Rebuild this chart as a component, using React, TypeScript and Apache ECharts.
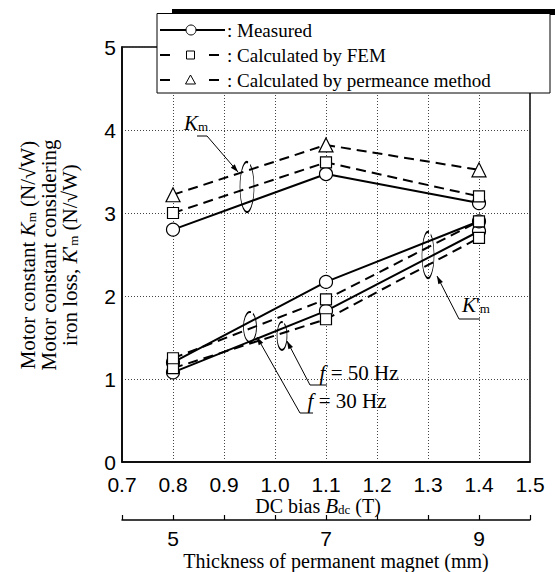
import React, { useEffect, useRef } from "react";
import * as echarts from "echarts";

// ---- data ----
const bias = [0.8, 1.1, 1.4];
const kmMeasured = [2.8, 3.47, 3.12];
const kmFEM = [3.0, 3.61, 3.2];
const kmPermeance = [3.22, 3.82, 3.52];
const km50Measured = [1.2, 2.17, 2.9];
const km50FEM = [1.25, 1.96, 2.9];
const km30Measured = [1.08, 1.82, 2.78];
const km30FEM = [1.13, 1.72, 2.7];
const thicknessBias = [0.8, 1.1, 1.4];
const thicknessLabels = ["5", "7", "9"];
const legendLabels = [": Measured", ": Calculated by FEM", ": Calculated by permeance method"];

const SANS = "'Liberation Sans', Arial, Helvetica, sans-serif";
const SERIF = "'Liberation Serif', 'Times New Roman', Times, serif";

const pts = (ys: number[]) => bias.map((x, i) => [x, ys[i]]);

function arrowHead(tip: number[], from: number[], len = 8, half = 2.6) {
  const dx = tip[0] - from[0];
  const dy = tip[1] - from[1];
  const d = Math.hypot(dx, dy);
  const ux = dx / d, uy = dy / d;
  const bx = tip[0] - ux * len, by = tip[1] - uy * len;
  return {
    type: "polygon",
    z: 5,
    shape: { points: [tip, [bx - uy * half, by + ux * half], [bx + uy * half, by - ux * half]] },
    style: { fill: "#000" },
  };
}

function leader(points: number[][]) {
  return [
    { type: "polyline", z: 5, shape: { points }, style: { stroke: "#000", lineWidth: 1, fill: "none" } },
    arrowHead(points[points.length - 1], points[points.length - 2]),
  ];
}

function loop(cx: number, cy: number, rx: number, ry: number) {
  return {
    type: "arc", z: 5,
    shape: { cx: 0, cy: 0, r: 1, startAngle: -Math.PI * 0.35, endAngle: Math.PI * 1.55, clockwise: true },
    x: cx, y: cy, scaleX: rx, scaleY: ry,
    style: { stroke: "#000", lineWidth: 1.2, fill: "none", strokeNoScale: true },
  };
}

const richBase = {
  i: { fontStyle: "italic", fontFamily: SERIF, fontSize: 21, color: "#000" },
  s: { fontFamily: SERIF, fontSize: 13, color: "#000", padding: [7, 0, 0, 0] },
};

function solidSeries(name: string, ys: number[]) {
  return {
    name, type: "line", data: pts(ys), symbol: "circle", symbolSize: 13,
    lineStyle: { color: "#000", width: 2, type: "solid" },
    itemStyle: { color: "#fff", borderColor: "#000", borderWidth: 1.2 },
    z: 2,
  };
}
function dashedSeries(name: string, ys: number[], symbol: string, size: number) {
  return {
    name, type: "line", data: pts(ys), symbol, symbolSize: size,
    lineStyle: { color: "#000", width: 2, type: [10, 6] },
    itemStyle: { color: "#fff", borderColor: "#000", borderWidth: 1.2 },
    z: 3,
  };
}

export default function App() {
  const ref = useRef<HTMLDivElement>(null);
  useEffect(() => {
    if (!ref.current) return;
    const chart = echarts.init(ref.current, null, { renderer: "svg" });
    const legendRows = [30, 55, 80];
    const graphic: any[] = [];
    // legend box
    graphic.push({ type: "rect", z: 20, shape: { x: 172, y: 9, width: 383, height: 6 }, style: { fill: "#000" } });
    graphic.push({ type: "rect", z: 21, shape: { x: 157, y: 13.5, width: 393, height: 79.5 }, style: { fill: "#fff", stroke: "#000", lineWidth: 1 } });
    graphic.push({ type: "line", z: 22, shape: { x1: 160, y1: legendRows[0], x2: 225, y2: legendRows[0] }, style: { stroke: "#000", lineWidth: 2 } });
    graphic.push({ type: "circle", z: 23, shape: { cx: 191, cy: legendRows[0], r: 5 }, style: { fill: "#fff", stroke: "#000", lineWidth: 1 } });
    [1, 2].forEach((k) => {
      const y = legendRows[k];
      graphic.push({ type: "line", z: 22, shape: { x1: 160, y1: y, x2: 170, y2: y }, style: { stroke: "#000", lineWidth: 2 } });
      graphic.push({ type: "line", z: 22, shape: { x1: 209, y1: y, x2: 219, y2: y }, style: { stroke: "#000", lineWidth: 2 } });
      if (k === 1) {
        graphic.push({ type: "rect", z: 23, shape: { x: 186.5, y: y - 4, width: 8, height: 8 }, style: { fill: "#fff", stroke: "#000", lineWidth: 1 } });
      } else {
        graphic.push({ type: "polygon", z: 23, shape: { points: [[190.5, y - 5], [185.5, y + 4], [195.5, y + 4]] }, style: { fill: "#fff", stroke: "#000", lineWidth: 1 } });
      }
    });
    legendLabels.forEach((t, k) => {
      graphic.push({ type: "text", z: 23, x: 227, y: legendRows[k], style: { text: t, font: `19px ${SERIF}`, fill: "#000", verticalAlign: "middle", align: "left" } });
    });

    // y axis title
    graphic.push({
      type: "text", x: 49, y: 255, rotation: Math.PI / 2,
      style: {
        text: "Motor constant {i|K}{s|m} (N/√W)\nMotor constant considering\niron loss, {i|K}'{s|m} (N/√W)",
        font: `21px ${SERIF}`, fill: "#000", align: "center", verticalAlign: "middle", lineHeight: 21,
        rich: richBase,
      },
    });
    // x axis titles
    graphic.push({
      type: "text", x: 318, y: 506,
      style: { text: "DC bias {i|B}{s|dc} (T)", font: `20px ${SERIF}`, fill: "#000", align: "center", verticalAlign: "middle", rich: richBase },
    });
    graphic.push({
      type: "text", x: 336, y: 561,
      style: { text: "Thickness of permanent magnet (mm)", font: `20px ${SERIF}`, fill: "#000", align: "center", verticalAlign: "middle" },
    });

    // annotations
    graphic.push({ type: "text", z: 5, x: 196, y: 123, style: { text: "{i|K}{s|m}", font: `21px ${SERIF}`, fill: "#000", align: "center", verticalAlign: "middle", rich: richBase } });
    graphic.push(...leader([[197, 136], [207, 136], [238, 172]]));
    graphic.push(loop(247, 187, 7, 25));

    graphic.push({ type: "text", z: 5, x: 476, y: 305, style: { text: "{i|K}'{s|m}", font: `21px ${SERIF}`, fill: "#000", align: "center", verticalAlign: "middle", rich: richBase } });
    graphic.push(...leader([[480, 319], [459, 319], [437, 276]]));
    graphic.push(loop(428, 255, 6, 23));

    graphic.push({ type: "text", z: 5, x: 359, y: 373, style: { text: "{i|f} = 50 Hz", font: `21px ${SERIF}`, fill: "#000", align: "center", verticalAlign: "middle", rich: richBase } });
    graphic.push(...leader([[327, 385], [310, 385], [287, 341]]));
    graphic.push(loop(282, 336, 5, 14));

    graphic.push({ type: "text", z: 5, x: 347, y: 401, style: { text: "{i|f} = 30 Hz", font: `21px ${SERIF}`, fill: "#000", align: "center", verticalAlign: "middle", rich: richBase } });
    graphic.push(...leader([[313, 413], [300, 413], [257, 337]]));
    graphic.push(loop(250, 327, 6.5, 15));

    chart.setOption({
      animation: false,
      backgroundColor: "#fff",
      grid: { left: 122, right: 25, top: 47, bottom: 110, show: true, borderColor: "#000", borderWidth: 1.5, backgroundColor: "transparent" },
      xAxis: [
        {
          type: "value", min: 0.7, max: 1.5, interval: 0.1, position: "bottom",
          axisLine: { show: true, lineStyle: { color: "#000", width: 1.5 } },
          axisTick: { show: false },
          axisLabel: { color: "#000", fontSize: 21, fontFamily: SANS, margin: 12, formatter: (v: number) => v.toFixed(1) },
          splitLine: { show: true, lineStyle: { color: "#444", width: 1, type: [1, 2] } },
        },
        {
          type: "value", min: 0.7, max: 1.5, interval: 0.1, position: "bottom", offset: 58,
          axisLine: { show: true, lineStyle: { color: "#000", width: 1.5 } },
          axisTick: { show: true, inside: true, length: 5, lineStyle: { color: "#000", width: 1.2 } },
          axisLabel: {
            color: "#000", fontSize: 21, fontFamily: SANS, margin: 8, showMinLabel: true, showMaxLabel: true,
            formatter: (v: number) => {
              const i = thicknessBias.findIndex((b) => Math.abs(b - v) < 1e-6);
              return i >= 0 ? thicknessLabels[i] : "";
            },
          },
          splitLine: { show: false },
        },
      ],
      yAxis: {
        type: "value", min: 0, max: 5, interval: 1,
        axisLine: { show: true, lineStyle: { color: "#000", width: 1.5 } },
        axisTick: { show: false },
        axisLabel: { color: "#000", fontSize: 21, fontFamily: SANS, margin: 6 },
        splitLine: { show: true, lineStyle: { color: "#444", width: 1, type: [1, 2] } },
      },
      series: [
        solidSeries("Km measured", kmMeasured),
        dashedSeries("Km FEM", kmFEM, "rect", 11),
        dashedSeries("Km permeance", kmPermeance, "triangle", 14),
        solidSeries("K'm 30 Hz measured", km30Measured),
        dashedSeries("K'm 30 Hz FEM", km30FEM, "rect", 11),
        solidSeries("K'm 50 Hz measured", km50Measured),
        dashedSeries("K'm 50 Hz FEM", km50FEM, "rect", 11),
      ],
      graphic,
    });
    return () => chart.dispose();
  }, []);
  return <div ref={ref} style={{ position: "fixed", left: 0, top: 0, width: 555, height: 572 }} />;
}
